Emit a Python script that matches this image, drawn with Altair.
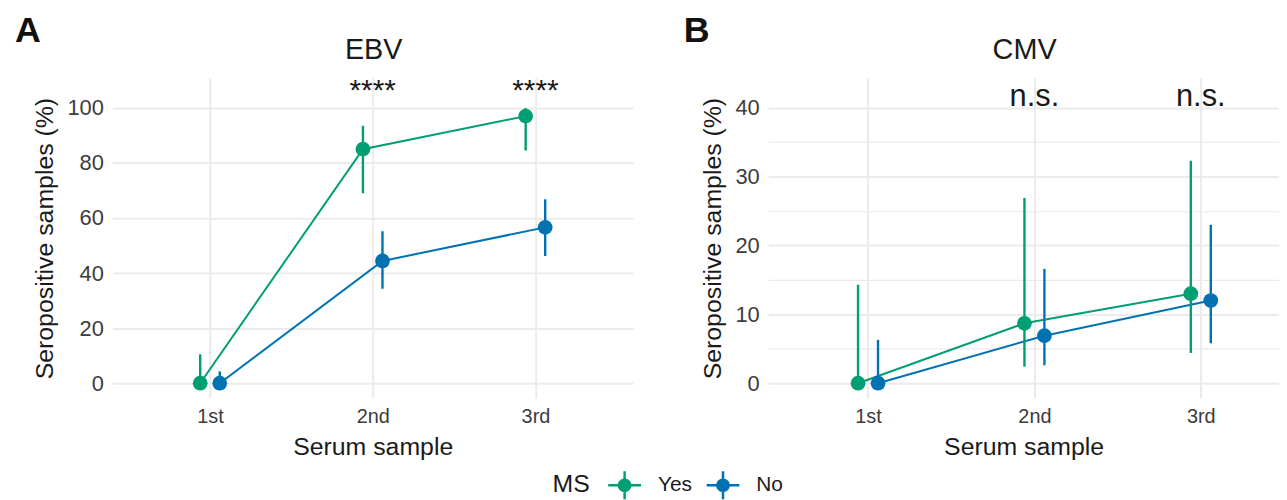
import altair as alt
import pandas as pd

# ---------------- data ----------------
samples = ["1st", "2nd", "3rd"]
ms_groups = ["Yes", "No"]
ms_colors = ["#009E73", "#0072B2"]

ebv_yes_pct = [0.0, 85.0, 97.0]
ebv_yes_low = [0.0, 69.0, 84.5]
ebv_yes_high = [10.5, 93.5, 99.9]
ebv_no_pct = [0.0, 44.4, 56.6]
ebv_no_low = [0.0, 34.3, 46.2]
ebv_no_high = [4.3, 55.2, 66.8]

cmv_yes_pct = [0.0, 8.7, 13.0]
cmv_yes_low = [0.0, 2.4, 4.4]
cmv_yes_high = [14.3, 26.9, 32.3]
cmv_no_pct = [0.0, 6.9, 12.0]
cmv_no_low = [0.0, 2.6, 5.8]
cmv_no_high = [6.3, 16.6, 23.0]

ebv_signif = ["", "****", "****"]
cmv_signif = ["", "n.s.", "n.s."]

FONT = "Liberation Sans"
LABEL_COLOR = "#3C3C3C"
TITLE_COLOR = "#1A1A1A"
GRID_COLOR = "#EBEBEB"
DODGE = 0.06
PLOT_H = 322


def make_df(yes, yes_lo, yes_hi, no, no_lo, no_hi):
    rows = []
    for grp, pct, lo, hi in [("Yes", yes, yes_lo, yes_hi), ("No", no, no_lo, no_hi)]:
        for i, s in enumerate(samples):
            rows.append({"sample": s, "idx": i + 1, "MS": grp,
                         "pct": pct[i], "low": lo[i], "high": hi[i]})
    return pd.DataFrame(rows)


def make_sig(labels):
    return pd.DataFrame({"sample": samples,
                         "idx": list(range(1, len(samples) + 1)),
                         "label": labels})


label_expr = " : ".join(f"datum.value == {i + 1} ? '{s}'" for i, s in enumerate(samples)) + " : ''"

legend_symbol = ("M-1,-0.076L-0.076,-0.076L-0.076,-0.85L0.076,-0.85L0.076,-0.076L1,-0.076"
                 "L1,0.076L0.076,0.076L0.076,0.85L-0.076,0.85L-0.076,0.076L-1,0.076Z"
                 "M0.42,0A0.42,0.42,0,1,1,-0.42,0A0.42,0.42,0,1,1,0.42,0Z")

LEGEND = alt.Legend(orient="none", legendX=443, legendY=393, direction="horizontal",
                    title="MS", titleOrient="left", titleFontSize=25, titleFont=FONT,
                    titleFontWeight="normal", titleColor=TITLE_COLOR,
                    titlePadding=18, titleBaseline="middle",
                    labelFontSize=21, labelFont=FONT, labelColor=TITLE_COLOR,
                    symbolType=legend_symbol, symbolSize=1089, symbolStrokeWidth=0,
                    labelOffset=17, columnPadding=14, symbolOpacity=1)


def panel(df, sdf, name, letter, ydom, yvals, major, sig_y, sig_size,
          xdom, width, letter_x):
    xscale = alt.Scale(domain=xdom, nice=False, zero=False)
    yscale = alt.Scale(domain=ydom, nice=False, zero=False)
    xaxis = alt.Axis(values=[1, 2, 3], labelExpr=label_expr, title="Serum sample",
                     grid=True, gridColor=GRID_COLOR, gridWidth=2,
                     domain=False, ticks=False, labelPadding=9, titlePadding=8,
                     labelFontSize=20, titleFontSize=25, labelFont=FONT, titleFont=FONT,
                     labelColor=LABEL_COLOR, titleColor=TITLE_COLOR, titleFontWeight="normal")
    yaxis = alt.Axis(values=yvals,
                     labelExpr=f"datum.value % {major} == 0 ? datum.label : ''",
                     title="Seropositive samples (%)",
                     grid=True, gridColor=GRID_COLOR,
                     gridWidth={"condition": {"test": f"datum.value % {major} == 0", "value": 2},
                                "value": 1.2},
                     domain=False, ticks=False, labelPadding=9, titlePadding=10,
                     labelFontSize=22, titleFontSize=25, labelFont=FONT, titleFont=FONT,
                     labelColor=LABEL_COLOR, titleColor=TITLE_COLOR, titleFontWeight="normal")
    cscale = alt.Scale(domain=ms_groups, range=ms_colors)
    color = alt.Color("MS:N", scale=cscale, legend=LEGEND)

    base = alt.Chart(df).transform_calculate(
        xpos=f"datum.idx + (datum.MS == 'Yes' ? {-DODGE} : {DODGE})")
    x = alt.X("xpos:Q", scale=xscale, axis=xaxis)
    y = alt.Y("pct:Q", scale=yscale, axis=yaxis)

    lines = base.mark_line(strokeWidth=2).encode(x=x, y=y, color=color, detail="MS:N")
    bars = base.mark_rule(strokeWidth=2.4).encode(
        x=x, y=alt.Y("low:Q", scale=yscale), y2="high:Q", color=color)
    pts = base.mark_circle(size=220, opacity=1).encode(x=x, y=y, color=color)

    sig = alt.Chart(sdf).transform_calculate(yv=f"{sig_y}").mark_text(
        font=FONT, fontSize=sig_size, color=TITLE_COLOR, baseline="alphabetic", align="center"
    ).encode(x=alt.X("idx:Q", scale=xscale), y=alt.Y("yv:Q", scale=yscale), text="label:N")

    heads = alt.Chart(pd.DataFrame({"t": [name]})).mark_text(
        font=FONT, fontSize=29, color=TITLE_COLOR, baseline="alphabetic", align="center"
    ).encode(x=alt.value(width / 2 + 1), y=alt.value(-19), text="t:N")

    lett = alt.Chart(pd.DataFrame({"t": [letter]})).mark_text(
        font="Liberation Sans Narrow, Liberation Sans", fontSize=36, fontWeight="bold",
        color="#111111", baseline="alphabetic", align="left"
    ).encode(x=alt.value(letter_x), y=alt.value(-36.5), text="t:N")

    return alt.layer(lines, bars, pts, sig, heads, lett).properties(width=width, height=PLOT_H)


ebv = panel(make_df(ebv_yes_pct, ebv_yes_low, ebv_yes_high, ebv_no_pct, ebv_no_low, ebv_no_high),
            make_sig(ebv_signif), "EBV", "A",
            [-5.4, 110.8], list(range(0, 111, 10)), 20, 103, 30,
            [0.4, 3.6], 524, -98)
cmv = panel(make_df(cmv_yes_pct, cmv_yes_low, cmv_yes_high, cmv_no_pct, cmv_no_low, cmv_no_high),
            make_sig(cmv_signif), "CMV", "B",
            [-2.16, 44.3], list(range(0, 41, 5)), 10, 40.3, 31,
            [0.4, 3.47], 514, -85)

chart = alt.hconcat(ebv, cmv, spacing=51).resolve_scale(color="shared").properties(
    padding={"left": 7, "top": 3, "right": 0, "bottom": 0}
).configure(background="white").configure_view(stroke=None)

chart.save("out.html", embed_options={"renderer": "svg", "actions": False})
